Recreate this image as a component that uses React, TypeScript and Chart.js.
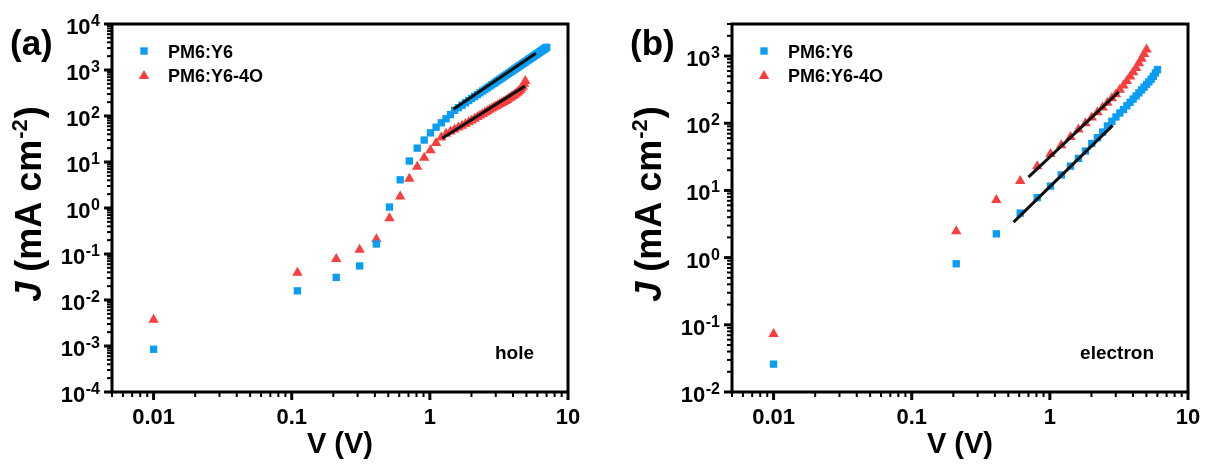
import React, { useEffect, useRef } from 'react';
import { Chart, registerables } from 'chart.js';

Chart.register(...registerables);

const FONT = '"Liberation Sans", Arial, sans-serif';
const BLUE = '#0A9DF2';
const RED = '#F83E3E';

// ---------- Panel (a): hole-only devices ----------
const holeV_Y6 = [
  0.01, 0.11, 0.21, 0.31, 0.41, 0.51, 0.61, 0.71, 0.81, 0.91,
  1.01, 1.11, 1.21, 1.31, 1.41, 1.51, 1.61, 1.71, 1.81, 1.91,
  2.01, 2.11, 2.21, 2.31, 2.41, 2.51, 2.61, 2.71, 2.81, 2.91,
  3.01, 3.11, 3.21, 3.31, 3.41, 3.51, 3.61, 3.71, 3.81, 3.91,
  4.01, 4.11, 4.21, 4.31, 4.41, 4.51, 4.61, 4.71, 4.81, 4.91,
  5.01, 5.11, 5.21, 5.31, 5.41, 5.51, 5.61, 5.71, 5.81, 5.91,
  6.01, 6.11, 6.21, 6.31, 6.41, 6.51, 6.61, 6.71, 6.81, 6.91, 7.01,
];
const holeJ_Y6 = [
  0.00085, 0.0158, 0.031, 0.055, 0.165, 1.05, 4.1, 10.5, 20, 30,
  43, 57, 71, 87, 107, 133, 152, 172, 194, 217,
  241, 266, 292, 320, 349, 380, 411, 444, 478, 514,
  551, 589, 628, 669, 711, 755, 800, 846, 893, 942,
  992, 1044, 1096, 1150, 1205, 1262, 1320, 1380, 1440, 1502,
  1566, 1630, 1696, 1764, 1832, 1902, 1974, 2046, 2120, 2196,
  2272, 2350, 2430, 2510, 2592, 2676, 2760, 2848, 2936, 3024, 3115,
];
const holeV_Y64O = [
  0.01, 0.11, 0.21, 0.31, 0.41, 0.51, 0.61, 0.71, 0.81, 0.91,
  1.01, 1.11, 1.21, 1.31, 1.41, 1.51, 1.61, 1.71, 1.81, 1.91,
  2.01, 2.11, 2.21, 2.31, 2.41, 2.51, 2.61, 2.71, 2.81, 2.91,
  3.01, 3.11, 3.21, 3.31, 3.41, 3.51, 3.61, 3.71, 3.81, 3.91,
  4.01, 4.11, 4.21, 4.31, 4.41, 4.51, 4.61, 4.71, 4.81, 4.91,
];
const holeJ_Y64O = [
  0.0037, 0.039, 0.078, 0.123, 0.21, 0.6, 1.77, 4.3, 7.9, 12.4,
  18, 26, 34, 41, 46, 51, 56, 61, 67, 73,
  80, 87, 95, 103, 111, 119, 127, 136, 145, 154,
  163, 172, 182, 192, 202, 213, 224, 236, 249, 262,
  276, 291, 307, 325, 346, 370, 400, 440, 500, 580,
];
const holeFitY6_V = [1.48, 5.86];
const holeFitY6_J = [140, 2310];
const holeFitY64O_V = [1.23, 4.88];
const holeFitY64O_J = [33, 446];

// ---------- Panel (b): electron-only devices ----------
const elecV_Y6 = [
  0.01, 0.21, 0.41, 0.61, 0.81, 1.01, 1.21, 1.41, 1.61, 1.81,
  2.01, 2.21, 2.41, 2.61, 2.81, 3.01, 3.21, 3.41, 3.61, 3.81,
  4.01, 4.21, 4.41, 4.61, 4.81, 5.01, 5.21, 5.41, 5.61, 5.81, 6.01,
];
const elecJ_Y6 = [
  0.026, 0.81, 2.26, 4.6, 7.8, 11.6, 17, 23, 30, 38.6,
  50, 61, 74, 91, 107, 124, 142, 160, 182, 205,
  229, 255, 283, 313, 345, 378, 413, 452, 500, 560, 630,
];
const elecV_Y64O = [
  0.01, 0.21, 0.41, 0.61, 0.81, 1.01, 1.21, 1.41, 1.61, 1.81,
  2.01, 2.21, 2.41, 2.61, 2.81, 3.01, 3.21, 3.41, 3.61, 3.81,
  4.01, 4.21, 4.41, 4.61, 4.81, 5.01,
];
const elecJ_Y64O = [
  0.073, 2.47, 7.2, 13.8, 23, 35, 47, 62.5, 81, 100,
  122, 146, 172, 202, 235, 270, 315, 365, 425, 495,
  575, 665, 780, 910, 1070, 1250,
];
const elecFitY6_V = [0.546, 2.85];
const elecFitY6_J = [3.37, 93];
const elecFitY64O_V = [0.7, 3.15];
const elecFitY64O_J = [15.8, 293];

// ---------- Axes / labels ----------
const xMin = 0.005;
const xMax = 10;
const xTickValues = [0.01, 0.1, 1, 10];
const xTickLabels = ['0.01', '0.1', '1', '10'];
const holeYExponents = [-4, -3, -2, -1, 0, 1, 2, 3, 4];
const elecYExponents = [-2, -1, 0, 1, 2, 3];
const legendLabels = ['PM6:Y6', 'PM6:Y6-4O'];
const xTitle = 'V (V)';

const pts = (xs: number[], ys: number[]) => xs.map((x, i) => ({ x, y: ys[i] }));

type PanelSpec = {
  label: string;
  note: string;
  canvasLeft: number;
  padding: { left: number; right: number; top: number; bottom: number };
  yMin: number;
  yMax: number;
  yExps: number[];
  blue: { x: number; y: number }[];
  red: { x: number; y: number }[];
  fitBlue: { x: number; y: number }[];
  fitRed: { x: number; y: number }[];
};

const panels: PanelSpec[] = [
  {
    label: '(a)',
    note: 'hole',
    canvasLeft: 0,
    padding: { left: 112, right: 37, top: 24, bottom: 72 },
    yMin: 1e-4,
    yMax: 1e4,
    yExps: holeYExponents,
    blue: pts(holeV_Y6, holeJ_Y6),
    red: pts(holeV_Y64O, holeJ_Y64O),
    fitBlue: pts(holeFitY6_V, holeFitY6_J),
    fitRed: pts(holeFitY64O_V, holeFitY64O_J),
  },
  {
    label: '(b)',
    note: 'electron',
    canvasLeft: 605,
    padding: { left: 127, right: 22, top: 24, bottom: 72 },
    yMin: 1e-2,
    yMax: 3000,
    yExps: elecYExponents,
    blue: pts(elecV_Y6, elecJ_Y6),
    red: pts(elecV_Y64O, elecJ_Y64O),
    fitBlue: pts(elecFitY6_V, elecFitY6_J),
    fitRed: pts(elecFitY64O_V, elecFitY64O_J),
  },
];

function drawSquare(ctx: CanvasRenderingContext2D, cx: number, cy: number, r: number) {
  const s = Math.SQRT1_2 * r;
  ctx.fillStyle = BLUE;
  ctx.fillRect(cx - s, cy - s, 2 * s, 2 * s);
}
function drawTriangle(ctx: CanvasRenderingContext2D, cx: number, cy: number, r: number) {
  ctx.fillStyle = RED;
  ctx.beginPath();
  ctx.moveTo(cx, cy - r);
  ctx.lineTo(cx + r * Math.sin((2 * Math.PI) / 3), cy + r / 2);
  ctx.lineTo(cx - r * Math.sin((2 * Math.PI) / 3), cy + r / 2);
  ctx.closePath();
  ctx.fill();
}

function makeAxesPlugin(spec: PanelSpec) {
  return {
    id: 'customAxes' + spec.label,
    afterDatasetsDraw(chart: any) {
      const ctx: CanvasRenderingContext2D = chart.ctx;
      const a = chart.chartArea;
      const xs = chart.scales.x;
      const ys = chart.scales.y;
      ctx.save();
      ctx.strokeStyle = '#000';
      ctx.fillStyle = '#000';
      ctx.lineCap = 'butt';

      // frame
      ctx.lineWidth = 3;
      ctx.lineJoin = 'miter';
      ctx.strokeRect(a.left, a.top, a.right - a.left, a.bottom - a.top);

      // y ticks
      const yLoExp = Math.floor(Math.log10(spec.yMin));
      const yHiExp = Math.ceil(Math.log10(spec.yMax));
      for (let d = yLoExp; d <= yHiExp; d++) {
        const base = Math.pow(10, d);
        if (base >= spec.yMin * 0.999 && base <= spec.yMax * 1.001) {
          const py = ys.getPixelForValue(base);
          ctx.lineWidth = 3;
          ctx.beginPath();
          ctx.moveTo(a.left - 1, py);
          ctx.lineTo(a.left - 8, py);
          ctx.stroke();
        }
        for (let m = 2; m <= 9; m++) {
          const v = m * base;
          if (v < spec.yMin || v > spec.yMax) continue;
          const py = ys.getPixelForValue(v);
          ctx.lineWidth = 2;
          ctx.beginPath();
          ctx.moveTo(a.left - 1, py);
          ctx.lineTo(a.left - 5, py);
          ctx.stroke();
        }
      }
      // x ticks
      for (let d = -3; d <= 1; d++) {
        const base = Math.pow(10, d);
        if (base >= xMin * 0.999 && base <= xMax * 1.001) {
          const px = xs.getPixelForValue(base);
          ctx.lineWidth = 3;
          ctx.beginPath();
          ctx.moveTo(px, a.bottom + 1);
          ctx.lineTo(px, a.bottom + 8);
          ctx.stroke();
        }
        for (let m = 2; m <= 9; m++) {
          const v = m * base;
          if (v < xMin || v > xMax) continue;
          const px = xs.getPixelForValue(v);
          ctx.lineWidth = 2;
          ctx.beginPath();
          ctx.moveTo(px, a.bottom + 1);
          ctx.lineTo(px, a.bottom + 5);
          ctx.stroke();
        }
      }

      // y tick labels: 10^n
      ctx.textBaseline = 'alphabetic';
      ctx.textAlign = 'left';
      const labelRight = a.left - 12;
      spec.yExps.forEach((e) => {
        const py = ys.getPixelForValue(Math.pow(10, e));
        const expStr = e < 0 ? '-' + Math.abs(e) : String(e);
        ctx.font = `bold 16px ${FONT}`;
        const expW = ctx.measureText(expStr).width;
        ctx.fillText(expStr, labelRight - expW, py + 2);
        ctx.font = `bold 22px ${FONT}`;
        const baseW = ctx.measureText('10').width;
        ctx.fillText('10', labelRight - expW - baseW - 0.5, py + 10);
      });

      // x tick labels
      ctx.font = `bold 22px ${FONT}`;
      ctx.textAlign = 'center';
      xTickValues.forEach((v, i) => {
        const px = xs.getPixelForValue(v);
        ctx.fillText(xTickLabels[i], px, a.bottom + 32);
      });

      // x title
      ctx.font = `bold 29px ${FONT}`;
      ctx.textAlign = 'center';
      ctx.fillText(xTitle, (a.left + a.right) / 2, a.bottom + 61);

      // y title (rotated)
      ctx.save();
      ctx.translate(a.left - 71, 204);
      ctx.rotate(-Math.PI / 2);
      ctx.textAlign = 'left';
      const partJ = 'J';
      const partMid = ' (mA cm';
      const partSup = '-2';
      const partEnd = ')';
      ctx.font = `italic bold 36px ${FONT}`;
      const wJ = ctx.measureText(partJ).width;
      ctx.font = `bold 36px ${FONT}`;
      const wMid = ctx.measureText(partMid).width;
      const wEnd = ctx.measureText(partEnd).width;
      ctx.font = `bold 22px ${FONT}`;
      const wSup = ctx.measureText(partSup).width;
      const total = wJ + wMid + wSup + wEnd + 2;
      let x0 = -total / 2;
      ctx.font = `italic bold 36px ${FONT}`;
      ctx.fillText(partJ, x0, 0);
      x0 += wJ;
      ctx.font = `bold 36px ${FONT}`;
      ctx.fillText(partMid, x0, 0);
      x0 += wMid;
      ctx.font = `bold 22px ${FONT}`;
      ctx.fillText(partSup, x0 + 1, -14);
      x0 += wSup + 2;
      ctx.font = `bold 36px ${FONT}`;
      ctx.fillText(partEnd, x0, 0);
      ctx.restore();

      // panel label
      ctx.font = `bold 35px ${FONT}`;
      ctx.textAlign = 'left';
      ctx.fillText(spec.label, a.left - 102, 55);

      // legend
      const lx = a.left + 32;
      const tx = a.left + 56;
      drawSquare(ctx, lx, 51, 5.2);
      drawTriangle(ctx, lx, 76, 6);
      ctx.fillStyle = '#000';
      ctx.font = `bold 18px ${FONT}`;
      ctx.fillText(legendLabels[0], tx, 57.5);
      ctx.fillText(legendLabels[1], tx, 81.5);

      // note
      ctx.font = `bold 19px ${FONT}`;
      ctx.textAlign = 'right';
      ctx.fillText(spec.note, a.right - 34, a.bottom - 33);

      ctx.restore();
    },
  };
}

function Panel({ spec }: { spec: PanelSpec }) {
  const ref = useRef<HTMLCanvasElement>(null);
  useEffect(() => {
    if (!ref.current) return;
    const chart = new Chart(ref.current, {
      type: 'scatter',
      data: {
        datasets: [
          {
            label: 'fit ' + legendLabels[0],
            data: spec.fitBlue,
            showLine: true,
            borderColor: '#111',
            borderWidth: 3,
            pointRadius: 0,
            order: 0,
          } as any,
          {
            label: 'fit ' + legendLabels[1],
            data: spec.fitRed,
            showLine: true,
            borderColor: '#111',
            borderWidth: 3,
            pointRadius: 0,
            order: 0,
          } as any,
          {
            label: legendLabels[0],
            data: spec.blue,
            pointStyle: 'rect',
            pointRadius: 5.2,
            pointBackgroundColor: BLUE,
            backgroundColor: BLUE,
            pointBorderWidth: 0,
            borderWidth: 0,
            order: 1,
          } as any,
          {
            label: legendLabels[1],
            data: spec.red,
            pointStyle: 'triangle',
            pointRadius: 6,
            pointBackgroundColor: RED,
            backgroundColor: RED,
            pointBorderWidth: 0,
            borderWidth: 0,
            order: 2,
          } as any,
        ],
      },
      options: {
        animation: false,
        responsive: false,
        events: [],
        layout: { padding: spec.padding },
        plugins: { legend: { display: false }, tooltip: { enabled: false } },
        scales: {
          x: { type: 'logarithmic', min: xMin, max: xMax, display: false },
          y: { type: 'logarithmic', min: spec.yMin, max: spec.yMax, display: false },
        },
      },
      plugins: [makeAxesPlugin(spec)],
    });
    return () => chart.destroy();
  }, [spec]);
  return (
    <canvas
      ref={ref}
      width={605}
      height={464}
      style={{ position: 'absolute', left: spec.canvasLeft, top: 0, width: 605, height: 464 }}
    />
  );
}

export default function App() {
  return (
    <div style={{ position: 'absolute', left: 0, top: 0, width: 1210, height: 464, background: '#fff' }}>
      {panels.map((p) => (
        <Panel key={p.label} spec={p} />
      ))}
    </div>
  );
}
